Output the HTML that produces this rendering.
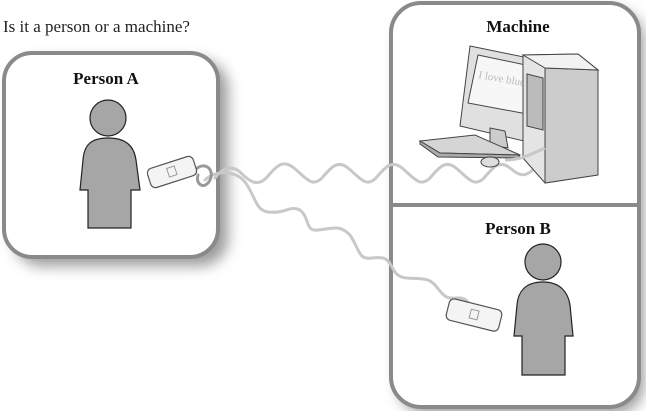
<!DOCTYPE html>
<html><head><meta charset="utf-8"><style>
html,body{margin:0;padding:0;background:#fff;width:646px;height:411px;overflow:hidden}
svg{display:block}
text{font-family:"Liberation Serif",serif}
</style></head><body>
<svg width="646" height="411" viewBox="0 0 646 411">
<defs>
<filter id="blur" x="-20%" y="-20%" width="140%" height="140%"><feGaussianBlur stdDeviation="7"/></filter>
</defs>
<text x="3" y="32" font-size="17" fill="#222">Is it a person or a machine?</text>
<!-- shadows -->
<rect x="14" y="60" width="214" height="206" rx="28" fill="#9a9a9a" filter="url(#blur)"/>
<rect x="398" y="10" width="246" height="404" rx="30" fill="#9a9a9a" filter="url(#blur)"/>
<!-- boxes -->
<rect x="4" y="53" width="214" height="204" rx="28" fill="#fff" stroke="#8a8a8a" stroke-width="4"/>
<rect x="391" y="3" width="248" height="404" rx="30" fill="#fff" stroke="#8a8a8a" stroke-width="4"/>
<line x1="391" y1="205" x2="639" y2="205" stroke="#8a8a8a" stroke-width="4"/>
<text x="106" y="84" font-size="17" font-weight="bold" text-anchor="middle" fill="#111">Person A</text>
<text x="518" y="32" font-size="17" font-weight="bold" text-anchor="middle" fill="#111">Machine</text>
<text x="518" y="234" font-size="17" font-weight="bold" text-anchor="middle" fill="#111">Person B</text>
<!-- Person A -->
<circle cx="108" cy="118" r="18" fill="#a6a6a6" stroke="#222" stroke-width="1.2"/>
<path d="M108,138 C90,138 84,146 83,160 L80,190 L88,190 L88,228 L131,228 L131,190 L140,190 L136,160 C134,146 126,138 108,138Z" fill="#a6a6a6" stroke="#222" stroke-width="1.2"/>
<!-- Person B -->
<circle cx="543" cy="262" r="18" fill="#a6a6a6" stroke="#222" stroke-width="1.2"/>
<path d="M543,282 C525,282 518,292 517,305 L514,336 L522,336 L522,375 L565,375 L565,336 L573,336 L570,305 C568,292 560,282 543,282Z" fill="#a6a6a6" stroke="#222" stroke-width="1.2"/>
<!-- waves -->
<g fill="none" stroke="#c8c8c8" stroke-width="3" stroke-linecap="round">
<path d="M215,178 C222,168 232,165 240,172 C250,182 258,188 268,176 C278,164 284,160 294,168 C306,178 312,188 322,178 C332,166 338,160 348,168 C360,178 366,188 376,178 C386,166 392,160 402,168 C414,178 420,188 430,178 C440,166 446,160 456,168 C468,178 474,188 484,178 C494,166 500,160 510,168 C520,176 526,180 540,162"/>
<path d="M205,180 C215,170 235,170 245,182 C255,195 255,210 268,212 C285,214 290,205 300,210 C310,218 305,232 318,230 C335,228 340,225 350,235 C360,250 358,260 372,258 C390,256 388,262 395,272 C402,282 415,276 428,280 C440,285 440,300 455,298 C465,297 468,300 472,310"/>
<path d="M195,170 C205,160 215,170 210,180 C205,190 195,185 198,175" stroke="#999"/>
</g>
<!-- phone A -->
<g transform="translate(172,172) rotate(-18)">
<rect x="-24" y="-10" width="48" height="20" rx="5" fill="#f4f4f4" stroke="#555" stroke-width="1.2"/>
<rect x="-4" y="-5" width="8" height="9" fill="none" stroke="#999"/>
</g>
<!-- phone B -->
<g transform="translate(474,315) rotate(14)">
<rect x="-27" y="-11" width="54" height="22" rx="5" fill="#f4f4f4" stroke="#555" stroke-width="1.2"/>
<rect x="-4" y="-5" width="8" height="9" fill="none" stroke="#999"/>
</g>
<!-- computer -->
<g stroke="#444" stroke-width="1">
<path d="M470,46 L548,62 L548,118 L528,142 L460,126 Z" fill="#e0e0e0"/>
<path d="M478,55 L540,68 L538,116 L468,103 Z" fill="#f7f7f7"/>
<text x="478" y="78" font-size="11" fill="#bbb" stroke="none" transform="rotate(10 478 78)" font-family="Liberation Sans">I love blue</text>
<path d="M490,128 L505,131 L508,148 L490,145 Z" fill="#ccc"/>
<path d="M420,141 L475,135 L520,155 L440,153 Z" fill="#d5d5d5"/>
<path d="M420,141 L440,153 L520,155 L518,158 L438,157 L420,144Z" fill="#aaa"/>
<ellipse cx="490" cy="162" rx="9" ry="5" fill="#ddd"/>
<path d="M523,55 L578,54 L598,70 L598,175 L545,183 L523,158Z" fill="#e4e4e4"/>
<path d="M545,68 L598,70 L598,175 L545,183Z" fill="#ccc"/>
<path d="M523,55 L578,54 L598,70 L545,68Z" fill="#f2f2f2"/>
<path d="M527,74 L543,78 L543,130 L527,126Z" fill="#bbb"/>
</g>
<path d="M505,160 C520,160 530,155 545,148" fill="none" stroke="#c8c8c8" stroke-width="3"/>
</svg>
</body></html>
